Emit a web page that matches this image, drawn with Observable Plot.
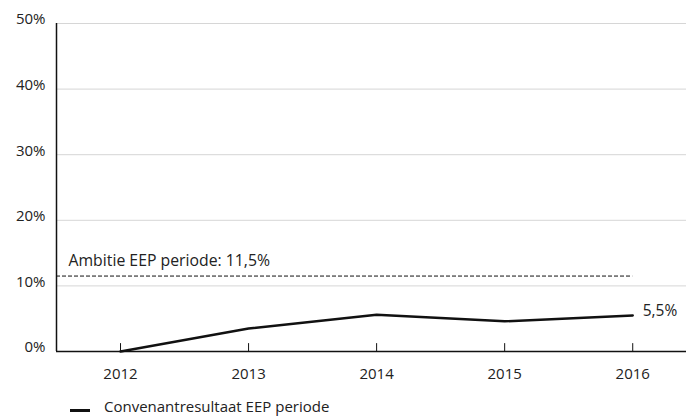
<!DOCTYPE html>
<html><head><meta charset="utf-8">
<script src="https://cdn.jsdelivr.net/npm/d3@7"></script>
<script src="https://cdn.jsdelivr.net/npm/@observablehq/plot@0.6"></script>
<style>
body{margin:0;background:#fff;font-family:"Open Sans",sans-serif;}
#legend{position:relative;height:24px;font-size:15px;color:#222;}
#legend .sw{position:absolute;left:70px;top:14px;width:20px;height:3px;background:#111;}
#legend .tx{position:absolute;left:104px;top:1px;}
</style></head>
<body>
<div id="chart"></div>
<div id="legend"><span class="sw"></span><span class="tx">Convenantresultaat EEP periode</span></div>
<script>
const years = [2012, 2013, 2014, 2015, 2016];
const values = [0, 3.5, 5.6, 4.6, 5.5];
const yTicks = [0, 10, 20, 30, 40, 50];
const ambition = 11.5;
const ambitionLabel = "Ambitie EEP periode: 11,5%";
const endLabel = "5,5%";

const data = years.map((y, i) => ({year: y, value: values[i]}));
const fmt = d => d + "%";

const chart = Plot.plot({
  width: 686, height: 395,
  marginLeft: 56, marginRight: 0, marginTop: 23, marginBottom: 44,
  style: {fontFamily: "Open Sans, sans-serif", fontSize: "14px", color: "#222", background: "#fff"},
  x: {domain: [2011.5, 2016.42], axis: null},
  y: {domain: [0, 50], axis: null},
  marks: [
    Plot.gridY(yTicks.filter(d => d > 0), {stroke: "#d6d6d6", strokeOpacity: 1, strokeWidth: 1}),
    Plot.ruleX([2011.5], {y1: 0, y2: 50, stroke: "#111", strokeWidth: 1.5}),
    Plot.ruleY([0], {stroke: "#111", strokeWidth: 1.5}),
    Plot.ruleX(years, {x: d => d, y1: 0, y2: 1.2, stroke: "#111", strokeWidth: 1}),
    Plot.text(yTicks, {x: 2011.5, y: d => d, text: fmt, textAnchor: "end", dx: -11, dy: -4, fontSize: 15}),
    Plot.text(years, {x: d => d, y: 0, text: d => String(d), dy: 23, fontSize: 15}),
    Plot.ruleY([ambition], {x1: 2011.5, x2: 2016, stroke: "#111", strokeWidth: 1, strokeDasharray: "4,2"}),
    Plot.text([ambitionLabel], {x: 2011.5, y: ambition, text: d => d, textAnchor: "start", dx: 12, dy: -15, fontSize: 15.8}),
    Plot.line(data, {x: "year", y: "value", stroke: "#111", strokeWidth: 2.5}),
    Plot.text([data[data.length - 1]], {x: "year", y: "value", text: () => endLabel, textAnchor: "start", dx: 10, dy: -4, fontSize: 15.5})
  ]
});
document.getElementById("chart").appendChild(chart);
</script>
</body></html>
